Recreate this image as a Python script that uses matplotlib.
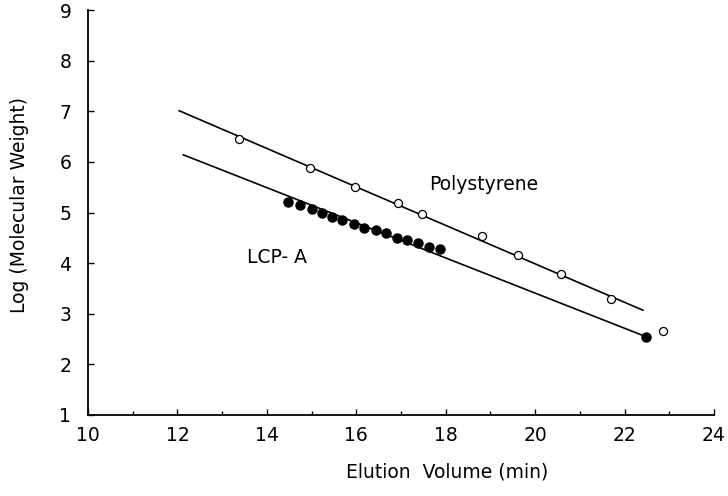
import matplotlib.pyplot as plt

# Polystyrene standards (open circles)
ps_volume = [13.37, 14.96, 15.98, 16.93, 17.48, 18.82, 19.62, 20.58, 21.70, 22.86]
ps_logmw = [6.45, 5.87, 5.50, 5.19, 4.98, 4.53, 4.16, 3.78, 3.30, 2.66]

# LCP-A fractions (filled circles)
lcp_volume = [14.47, 14.75, 15.00, 15.23, 15.46, 15.69, 15.94, 16.18, 16.43,
              16.67, 16.91, 17.14, 17.39, 17.63, 17.87, 22.47]
lcp_logmw = [5.21, 5.15, 5.06, 5.00, 4.92, 4.86, 4.78, 4.70, 4.65,
             4.59, 4.50, 4.45, 4.39, 4.32, 4.27, 2.55]

# calibration lines (end points)
ps_fit_x = [12.04, 22.41]
ps_fit_y = [7.01, 3.07]
lcp_fit_x = [12.13, 22.47]
lcp_fit_y = [6.14, 2.55]

x_ticks = [10, 12, 14, 16, 18, 20, 22, 24]
y_ticks = [1, 2, 3, 4, 5, 6, 7, 8, 9]

fig = plt.figure(figsize=(7.28, 4.96), dpi=100)
ax = fig.add_axes([88 / 728, 81 / 496, 626 / 728, 405 / 496])

ax.plot(ps_fit_x, ps_fit_y, color='black', lw=1.2, zorder=1)
ax.plot(lcp_fit_x, lcp_fit_y, color='black', lw=1.2, zorder=1)
ax.plot(ps_volume, ps_logmw, 'o', ms=5.8, mfc='white', mec='black', mew=0.9, zorder=3)
ax.plot(lcp_volume, lcp_logmw, 'o', ms=6.5, color='black', zorder=3)

ax.text(17.63, 5.55, 'Polystyrene', fontsize=13.5, va='center', ha='left')
ax.text(13.55, 4.11, 'LCP- A', fontsize=13.5, va='center', ha='left')

ax.set_xlim(10, 24)
ax.set_ylim(1, 9)
ax.set_xticks(x_ticks)
ax.set_xticks(range(10, 25), minor=True)
ax.set_yticks(y_ticks)
ax.tick_params(direction='in', length=4, width=1, labelsize=13.5)
ax.tick_params(axis='x', pad=8)
ax.tick_params(axis='y', pad=12)
ax.tick_params(which='minor', direction='in', length=3, width=1)

for side in ['top', 'right']:
    ax.spines[side].set_visible(False)
for side in ['left', 'bottom']:
    ax.spines[side].set_linewidth(1.3)

fig.text(447 / 728, 1 - 472 / 496, 'Elution  Volume (min)', fontsize=13.5,
         ha='center', va='center')
fig.text(20 / 728, 1 - 205 / 496, 'Log (Molecular Weight)', fontsize=13.5,
         ha='center', va='center', rotation=90)

fig.savefig('out.png', dpi=100)
